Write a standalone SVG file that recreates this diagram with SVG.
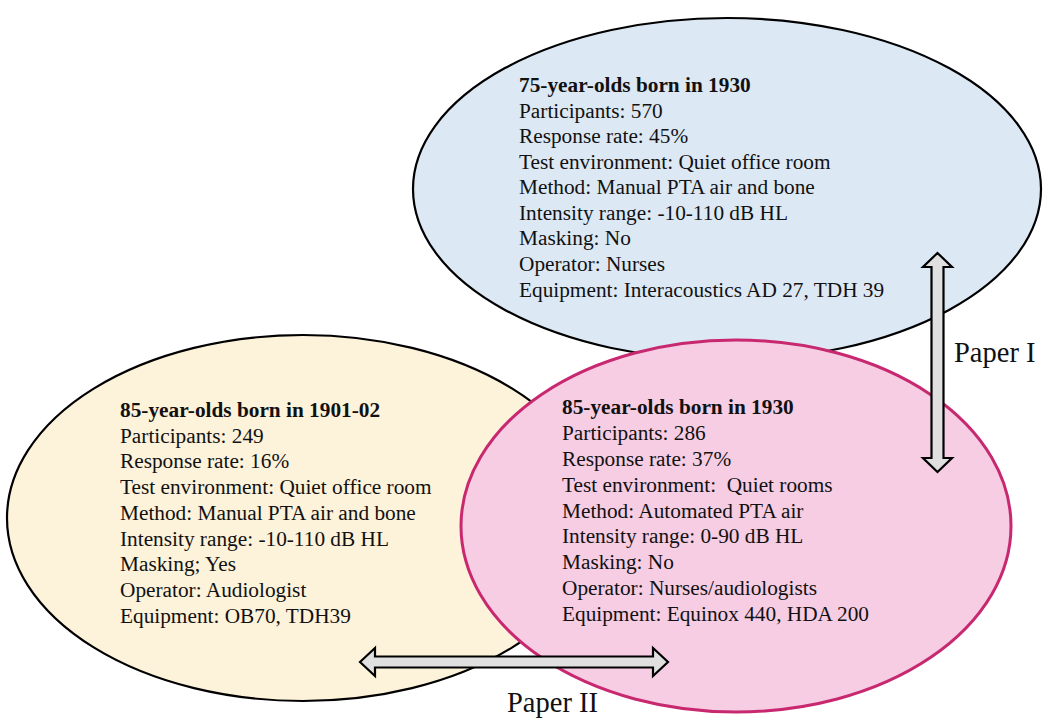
<svg xmlns="http://www.w3.org/2000/svg" width="1051" height="720" viewBox="0 0 1051 720">
<style>
text{font-family:"Liberation Serif","Times New Roman",serif;font-size:21.3px;fill:#111}
.b{font-weight:bold}
.lbl{font-size:28.5px}
.arr{fill:#e0e0e0;stroke:#000;stroke-width:2.2;stroke-linejoin:miter}
</style>
<rect width="1051" height="720" fill="#fff"/>
<g id="node-1930-75">
<ellipse cx="727" cy="189" rx="314" ry="171" fill="#dde8f5" stroke="#000" stroke-width="2.2"/>
<text x="519" y="92" class="b">75-year-olds born in 1930</text>
<text x="519" y="118">Participants: 570</text>
<text x="519" y="143">Response rate: 45%</text>
<text x="519" y="169">Test environment: Quiet office room</text>
<text x="519" y="194">Method: Manual PTA air and bone</text>
<text x="519" y="220">Intensity range: -10-110 dB HL</text>
<text x="519" y="245">Masking: No</text>
<text x="519" y="271">Operator: Nurses</text>
<text x="519" y="297">Equipment: Interacoustics AD 27, TDH 39</text>
</g>
<g id="node-1901">
<ellipse cx="303" cy="518" rx="296" ry="183" fill="#fdf2da" stroke="#000" stroke-width="2.2"/>
<text x="120" y="417" class="b">85-year-olds born in 1901-02</text>
<text x="120" y="443">Participants: 249</text>
<text x="120" y="468">Response rate: 16%</text>
<text x="120" y="494">Test environment: Quiet office room</text>
<text x="120" y="520">Method: Manual PTA air and bone</text>
<text x="120" y="546">Intensity range: -10-110 dB HL</text>
<text x="120" y="571">Masking; Yes</text>
<text x="120" y="597">Operator: Audiologist</text>
<text x="120" y="623">Equipment: OB70, TDH39</text>
</g>
<g id="node-1930-85">
<ellipse cx="736" cy="526" rx="275" ry="186" fill="#f6cde3" stroke="#c8286f" stroke-width="3"/>
<text x="562" y="414" class="b">85-year-olds born in 1930</text>
<text x="562" y="440">Participants: 286</text>
<text x="562" y="466">Response rate: 37%</text>
<text x="562" y="492" xml:space="preserve">Test environment:  Quiet rooms</text>
<text x="562" y="518">Method: Automated PTA air</text>
<text x="562" y="543">Intensity range: 0-90 dB HL</text>
<text x="562" y="569">Masking: No</text>
<text x="562" y="595">Operator: Nurses/audiologists</text>
<text x="562" y="621">Equipment: Equinox 440, HDA 200</text>
</g>
<g id="connectors">
<polygon class="arr" points="937.5,253 952,267 943.5,267 943.5,458 952,458 937.5,472 923,458 931.5,458 931.5,267 923,267"/>
<text x="954" y="362" class="lbl">Paper I</text>
<polygon class="arr" points="360,662 375,648 375,656.5 653,656.5 653,648 668,662 653,676 653,667.5 375,667.5 375,676"/>
<text x="507" y="712" class="lbl">Paper II</text>
</g>
</svg>
